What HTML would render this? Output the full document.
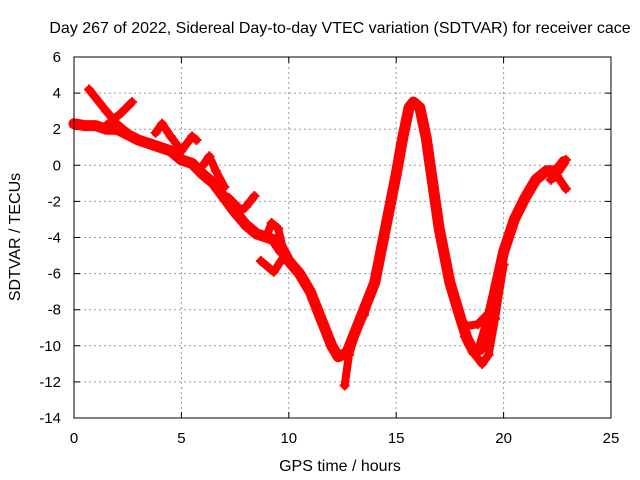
<!DOCTYPE html>
<html><head><meta charset="utf-8"><style>
body{margin:0;background:#fff;}
svg{display:block;font-family:"Liberation Sans",sans-serif;}
</style></head><body>
<svg id="chart" width="640" height="480">
<text x="340" y="33" font-size="16" text-anchor="middle">Day 267 of 2022, Sidereal Day-to-day VTEC variation (SDTVAR) for receiver cace</text>
<text x="340" y="471" font-size="16" text-anchor="middle">GPS time / hours</text>
<text transform="translate(20,237) rotate(-90)" font-size="16" text-anchor="middle">SDTVAR / TECUs</text>
<g id="grid"></g>
<g id="axes"></g>
<g id="series"></g>
<rect x="74" y="57" width="537" height="361" fill="none" stroke="#000" stroke-width="1"/>
</svg>
<script>
const xTicks=[0,5,10,15,20,25];
const yTicks=[6,4,2,0,-2,-4,-6,-8,-10,-12,-14];
const mainT=[0,0.5,1,1.5,2,2.5,3,3.5,4,4.5,5,5.5,6,6.5,7,7.5,8,8.5,9,9.5,10,10.5,11,11.5,12,12.3,12.7,13,13.5,14,14.5,15,15.3,15.6,15.8,16.1,16.4,16.7,17,17.5,18,18.3,18.6,18.9,19.2,19.5,20,20.5,21,21.5,22,22.5,22.8];
const mainV=[2.3,2.2,2.2,2.0,2.0,1.7,1.4,1.2,1.0,0.8,0.3,0.1,-0.5,-1.0,-1.8,-2.6,-3.3,-3.8,-4.0,-4.2,-5.3,-6.0,-7.0,-8.5,-10.0,-10.6,-10.4,-9.5,-8.0,-6.5,-3.5,-0.5,1.5,3.2,3.5,3.2,1.5,-1.0,-3.5,-6.5,-8.5,-9.6,-10.3,-10.2,-9.0,-7.5,-4.8,-3.0,-1.8,-0.8,-0.3,-0.3,0.2];
const arcBT=[0.7,1.5,2.0,2.5], arcBV=[4.2,3.0,2.3,1.8];
const arcCT=[1.5,2.2,2.7], arcCV=[2.2,2.9,3.5];
const arcDT=[3.8,4.1,4.5,5.0,5.5,5.7], arcDV=[1.8,2.3,1.6,0.8,1.6,1.4];
const arcET=[6.0,6.3,6.6,7.0], arcEV=[0,0.5,-0.3,-1.2];
const arcFT=[7.2,7.8,8.0,8.4], arcFV=[-1.8,-2.5,-2.3,-1.7];
const arcGT=[8.7,9.3,9.8,9.5,9.2,9.0,9.6,10.2], arcGV=[-5.3,-5.9,-5.0,-3.5,-3.2,-3.8,-4.8,-5.5];
const arcHT=[12.6,12.8,13.2,13.5,14.0], arcHV=[-12.2,-10.5,-9.0,-8.3,-6.5];
const arcIT=[18.2,18.6,19.0,19.3,19.6,20.0], arcIV=[-9.5,-10.4,-11.0,-10.5,-8.5,-5.5];
const arcJT=[18.3,18.8,19.3,19.6], arcJV=[-8.9,-8.8,-8.2,-7.5];
const arcKT=[22.2,22.6,22.9], arcKV=[-0.5,0,0.3];
const arcLT=[22.2,22.5,22.9], arcLV=[-0.8,-0.6,-1.3];
const allT=[mainT,arcBT,arcCT,arcDT,arcET,arcFT,arcGT,arcHT,arcIT,arcJT,arcKT,arcLT];
const allV=[mainV,arcBV,arcCV,arcDV,arcEV,arcFV,arcGV,arcHV,arcIV,arcJV,arcKV,arcLV];
const X0=74,X1=611,Y0=418,Y1=57;
function sx(t){return X0+(t-0)/(25-0)*(X1-X0);}
function sy(v){return Y0-(v-(-14))/(6-(-14))*(Y0-Y1);}
const NS="http://www.w3.org/2000/svg";
const grid=document.getElementById('grid'),axes=document.getElementById('axes'),ser=document.getElementById('series');
function mk(tag,attrs,parent){const e=document.createElementNS(NS,tag);for(const k in attrs)e.setAttribute(k,attrs[k]);parent.appendChild(e);return e;}
xTicks.forEach(t=>{const x=sx(t);
 if(t>0&&t<25){const g=mk('line',{x1:x,x2:x,y1:Y1,y2:Y0,stroke:'#999','stroke-dasharray':'2,3'},grid);
 
 }
 const tk=mk('path',{d:`M${x},${Y0}v-6M${x},${Y1}v6`,stroke:'#000'},axes);
 
 
 const l=mk('text',{x:x,y:Y0+25,'font-size':15,'text-anchor':'middle'},axes);l.textContent=t;
 
 });
yTicks.forEach(v=>{const y=sy(v);
 if(v>-14&&v<6){const g=mk('line',{x1:X0,x2:X1,y1:y,y2:y,stroke:'#999','stroke-dasharray':'2,3'},grid);
 
 }
 const tk=mk('path',{d:`M${X0},${y}h6M${X1},${y}h-6`,stroke:'#000'},axes);
 
 
 const l=mk('text',{x:X0-13,y:y+5,'font-size':15,'text-anchor':'end'},axes);l.textContent=v;
 
 });
allT.forEach((ts,i)=>{const vs=allV[i];
 const pts=ts.map((t,j)=>sx(t)+','+sy(vs[j])).join(' ');
 const pl=mk('polyline',{points:pts,fill:'none',stroke:'#f00','stroke-width':i==0?11:8,'stroke-linejoin':'round','stroke-linecap':'round'},ser);
 
 
 ts.forEach((t,j)=>{const x=sx(t),y=sy(vs[j]);
  const m=mk('path',{d:`M${x-5},${y}h10M${x},${y-5}v10`,stroke:'#f00','stroke-width':2},ser);
  
  });});
</script>
</body></html>
